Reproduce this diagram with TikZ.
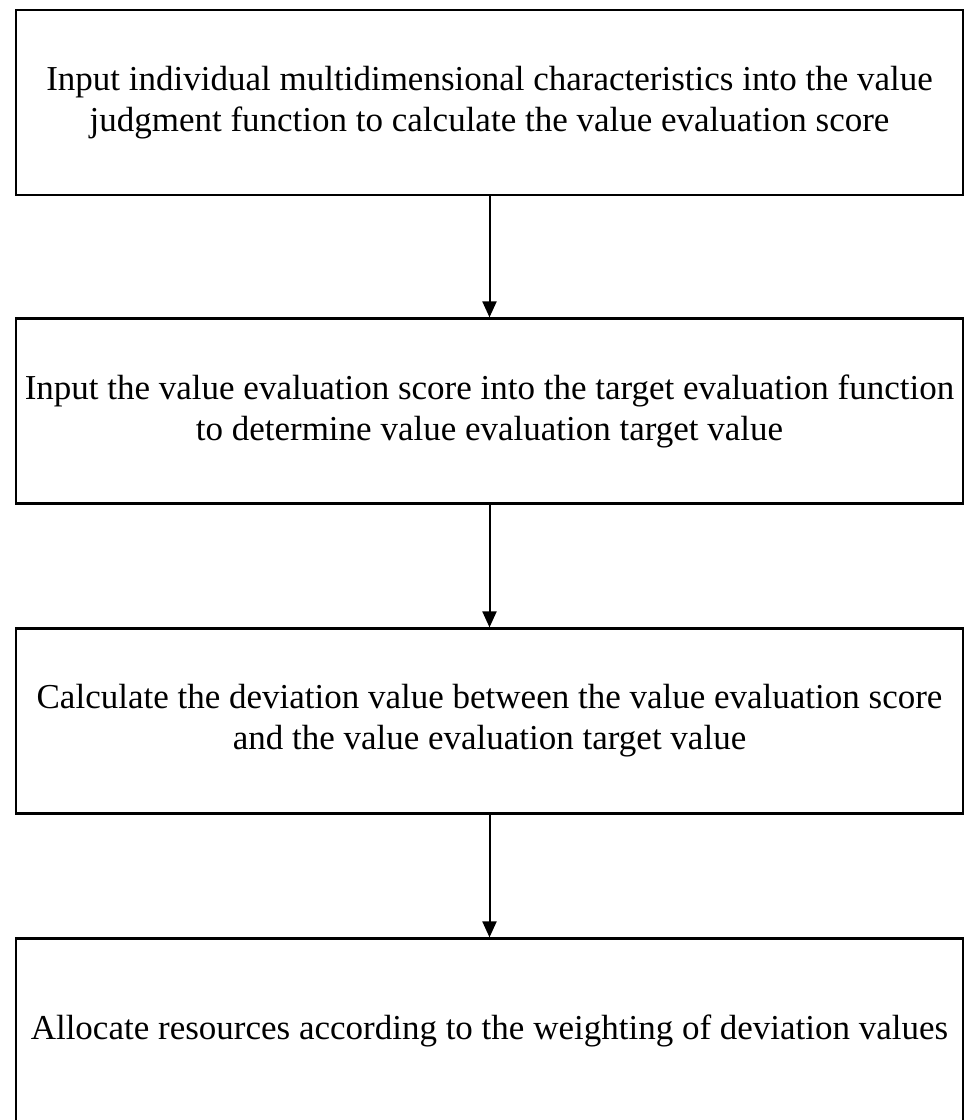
\documentclass[tikz,border=0pt]{standalone}
\usepackage{fontspec}
\setmainfont{Liberation Serif}
\usetikzlibrary{arrows.meta}
\begin{document}
\begin{tikzpicture}[x=1pt,y=-1pt,
  stepbox/.style={draw=black, line width=2.2pt, fill=white, minimum width=947pt, minimum height=185pt,
    inner sep=0pt, align=center, font=\fontsize{35}{41}\selectfont},
  arr/.style={draw=black, line width=2pt, -{Triangle[width=14pt,length=16pt]}}]
\useasboundingbox (0,0) rectangle (966,1120);
\fill[white] (0,0) rectangle (966,1120);
\node[stepbox] (b1) at (489.5,102.5) {Input individual multidimensional characteristics into the value\\judgment function to calculate the value evaluation score};
\node[stepbox] (b2) at (489.5,411) {Input the value evaluation score into the target evaluation function\\to determine value evaluation target value};
\node[stepbox] (b3) at (489.5,721) {Calculate the deviation value between the value evaluation score\\and the value evaluation target value};
\node[stepbox] (b4) at (489.5,1031) {Allocate resources according to the weighting of deviation values};
\draw[arr] (b1) -- (b2);
\draw[arr] (b2) -- (b3);
\draw[arr] (b3) -- (b4);
\end{tikzpicture}
\end{document}
